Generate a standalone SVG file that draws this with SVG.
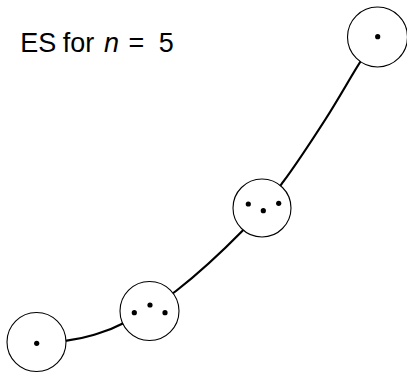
<svg xmlns="http://www.w3.org/2000/svg" width="407" height="373" viewBox="0 0 407 373">
<style>
.node circle.ring{fill:#fff;stroke:#000;stroke-width:1.1}
.dot{fill:#000}
.edge{fill:none;stroke:#000;stroke-width:2.2}
text{font-family:"Liberation Sans","DejaVu Sans",sans-serif;font-size:27px;fill:#000}
</style>
<rect width="407" height="373" fill="#fff"/>
<text y="52"><tspan x="20.3">ES</tspan><tspan x="62.8">for</tspan><tspan x="104" font-style="italic">n</tspan><tspan x="128.5">=</tspan><tspan x="158.8">5</tspan></text>
<g id="connectors">
<path class="edge" d="M36,343 C46.2,342.2 57.15,342.03 66.7,340.7 C76.25,339.37 83.87,337.9 93.3,335 C102.73,332.1 109.52,330.63 123.3,323.3 C137.08,315.97 156,306.55 176,291 C196,275.45 225.42,248.22 243.3,230 C261.18,211.78 269.68,200.03 283.3,181.7 C296.92,163.37 312.5,139.45 325,120 C337.5,100.55 349.63,78.83 358.3,65 C366.97,51.17 370.77,46.33 377,37"/>
</g>
<g id="node1" class="node"><circle class="ring" cx="36.5" cy="342" r="29.5"/><circle class="dot" cx="36.7" cy="343.3" r="2.6"/></g>
<g id="node3" class="node"><circle class="ring" cx="149.5" cy="311" r="29.5"/><circle class="dot" cx="134.3" cy="312.7" r="2.6"/><circle class="dot" cx="150" cy="305" r="2.6"/><circle class="dot" cx="165" cy="312.7" r="2.6"/></g>
<g id="node3b" class="node"><circle class="ring" cx="262" cy="208" r="29"/><circle class="dot" cx="248.3" cy="204" r="2.6"/><circle class="dot" cx="263.3" cy="210.7" r="2.6"/><circle class="dot" cx="278.7" cy="203.3" r="2.6"/></g>
<g id="node1b" class="node"><circle class="ring" cx="377.5" cy="37" r="30"/><circle class="dot" cx="377.7" cy="36.7" r="2.6"/></g>
</svg>
